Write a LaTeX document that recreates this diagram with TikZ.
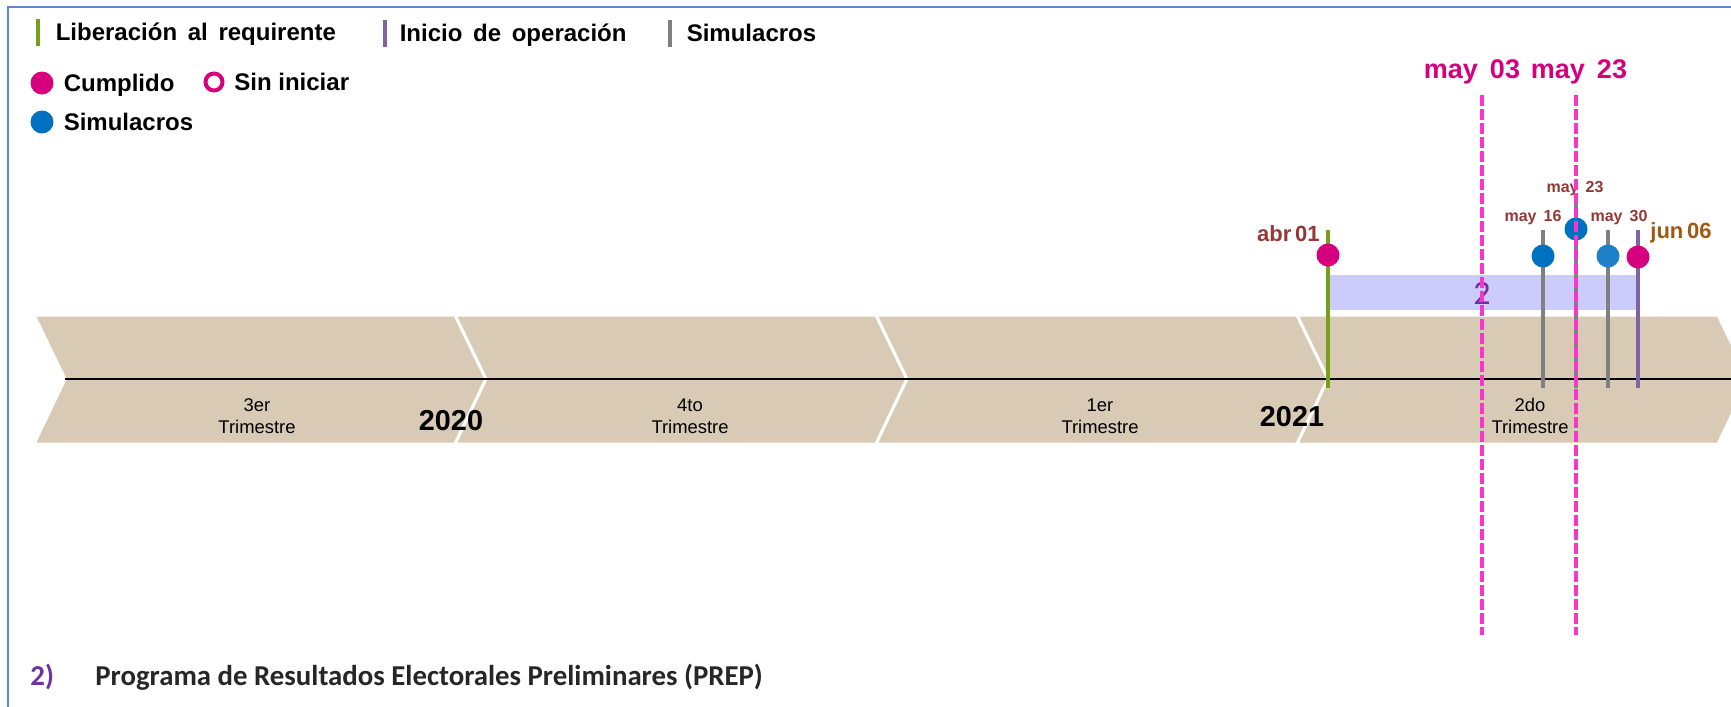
\documentclass[tikz,border=0pt]{standalone}
\usepackage{fontspec}
\setmainfont{Liberation Sans}
\newfontfamily\legfont[WordSpace=1.6]{Liberation Sans}
\newfontfamily\calfont{Carlito}
\usepackage{tikz}
\usetikzlibrary{positioning}
\definecolor{colorFrame}{RGB}{91,137,204}
\definecolor{colorTan}{RGB}{216,202,180}
\definecolor{colorLib}{RGB}{118,160,26}
\definecolor{colorOp}{RGB}{128,100,162}
\definecolor{colorSim}{RGB}{128,128,128}
\definecolor{colorDone}{RGB}{214,0,127}
\definecolor{colorBlue}{RGB}{0,112,192}
\definecolor{colorBlueLight}{RGB}{30,128,200}
\definecolor{colorSpan}{RGB}{204,204,252}
\definecolor{colorNum}{RGB}{112,48,160}
\definecolor{colorDate}{RGB}{149,55,53}
\definecolor{colorJun}{RGB}{160,88,18}
\definecolor{colorCut}{RGB}{255,51,204}
\tikzset{
  legbar/.style={fill=#1, inner sep=0pt, minimum width=2pt, minimum height=13.5pt},
  legtext/.style={inner sep=0pt, text height=8.6pt, text depth=0pt, font=\legfont\bfseries\fontsize{12}{14}\selectfont},
  pindot/.style={circle, fill=#1, inner sep=0pt, minimum size=11.5pt},
  evbar/.style={line width=2pt},
  quarter/.style={align=center, inner sep=0pt, font=\fontsize{9.2}{11}\selectfont},
  yearlbl/.style={inner sep=0pt, font=\bfseries\fontsize{14.4}{16}\selectfont},
  evdate/.style={inner sep=0pt, font=\legfont\bfseries\fontsize{11}{13}\selectfont},
  smalldate/.style={colorDate, inner sep=0pt, font=\legfont\bfseries\fontsize{8}{9}\selectfont},
  bigdate/.style={colorDone, inner sep=0pt, font=\legfont\bfseries\fontsize{13.5}{16}\selectfont},
  cutline/.style={colorCut, line width=2pt, dash pattern=on 5.25pt off 1.75pt},
}

\begin{document}
\begin{tikzpicture}[x=0.5pt, y=-0.5pt]
\useasboundingbox (0,0) rectangle (1731,707);
\clip (0,0) rectangle (1731,707);
% frame
\draw[colorFrame, line width=0.9pt] (8,720) -- (8,7) -- (1745,7);

% legend
\node[legbar=colorLib] (leg-lib) at (38,32) {};
\node[legtext, right=7.5pt of leg-lib] (leg-lib-txt) {Liberación al requirente};
\node[legbar=colorOp] (leg-op) at (385,33) {};
\node[legtext, right=6pt of leg-op] (leg-op-txt) {Inicio de operación};
\node[legbar=colorSim] (leg-sim) at (670,33) {};
\node[legtext, right=7pt of leg-sim] (leg-sim-txt) {Simulacros};
\node[pindot=colorDone] (leg-done) at (42,83) {};
\node[legtext, right=4.75pt of leg-done] (leg-done-txt) {Cumplido};
\node[circle, draw=colorDone, line width=2pt, inner sep=0pt, minimum size=8.5pt] (leg-todo) at (214,82) {};
\node[legtext, font=\bfseries\fontsize{12}{14}\selectfont, right=4.75pt of leg-todo] (leg-todo-txt) {Sin iniciar};
\node[pindot=colorBlue] (leg-drill) at (42,122) {};
\node[legtext, right=4.75pt of leg-drill] (leg-drill-txt) {Simulacros};

% timeline band
\foreach \x in {34,455,876,1297}
  \filldraw[fill=colorTan, draw=white, line width=1.5pt] (\x,315) -- ++(421,0) -- ++(31,64) -- ++(-31,65) -- ++(-421,0) -- ++(31,-65) -- cycle;
\coordinate (axis-start) at (65,379);
\coordinate (axis-end) at (1745,379);
\draw[line width=1pt] (axis-start) -- (axis-end);
\node[quarter] (q3) at (257,416) {3er\\Trimestre};
\node[quarter] (q4) at (690,416) {4to\\Trimestre};
\node[quarter] (q1) at (1100,416) {1er\\Trimestre};
\node[quarter] (q2) at (1530,416) {2do\\Trimestre};
\node[yearlbl] (y2020) at (451,421) {2020};
\node[yearlbl] (y2021) at (1292,417) {2021};

% activity 2
\fill[colorSpan] (1330,275) rectangle (1637,310);
\node[colorNum, inner sep=0pt, font=\calfont\fontsize{17}{19}\selectfont] (act2) at (1482,293) {2};

% events
\foreach \name/\x/\top/\barc/\doty/\dotc in {abr/1328/230/colorLib/255/colorDone,
    m16/1543/230/colorSim/256/colorBlue, m23/1576/202/colorSim/229/colorBlue,
    m30/1608/230/colorSim/256/colorBlueLight, jun/1638/230/colorOp/257/colorDone} {
  \coordinate (\name-top) at (\x,\top);
  \coordinate (\name-base) at (\x,388);
  \draw[evbar, \barc] (\name-top) -- (\name-base);
  \node[pindot=\dotc] (\name-dot) at (\x,\doty) {};
}
\node[evdate, colorDate, anchor=east] (abr-lbl) at (1320,234) {abr\,01};
\node[evdate, colorJun, anchor=west] (jun-lbl) at (1650,233) {jun\,06};
\node[smalldate] (m16-lbl) at (1533,218) {may 16};
\node[smalldate] (m23-lbl) at (1575,189) {may 23};
\node[smalldate] (m30-lbl) at (1619,218) {may 30};

% cut-off dates
\node[bigdate, anchor=base] (cut03-lbl) at (1472,78) {may 03};
\node[bigdate, anchor=base] (cut23-lbl) at (1579,78) {may 23};
\coordinate (cut03-top) at (1482,95);
\coordinate (cut03-bot) at (1482,635);
\coordinate (cut23-top) at (1576,95);
\coordinate (cut23-bot) at (1576,635);
\draw[cutline] (cut03-top) -- (cut03-bot);
\draw[cutline] (cut23-top) -- (cut23-bot);

% caption
\node[colorNum, inner sep=0pt, anchor=base west, font=\calfont\bfseries\fontsize{14.4}{17}\selectfont] (prep-num) at (30,685) {2)};
\node[black!85, inner sep=0pt, anchor=base west, font=\calfont\bfseries\fontsize{14.4}{17}\selectfont] (prep-title) at (95,685) {Programa de Resultados Electorales Preliminares (PREP)};
\end{tikzpicture}
\end{document}
